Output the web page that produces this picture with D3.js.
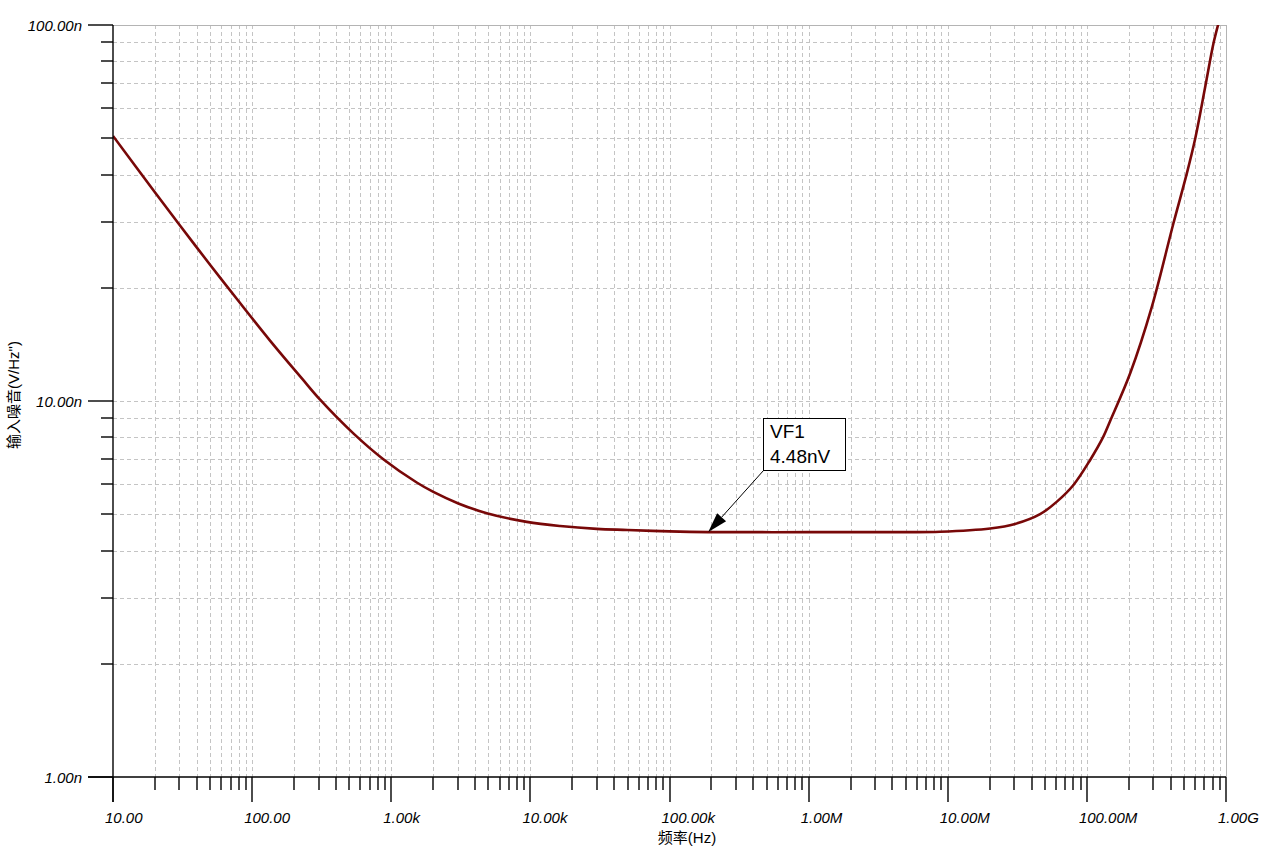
<!DOCTYPE html>
<html><head><meta charset="utf-8">
<script src="https://cdn.jsdelivr.net/npm/d3@7"></script>
<style>
html,body{margin:0;padding:0;background:#fff;}
svg{display:block;}
</style></head>
<body>
<svg id="chart" width="1262" height="850"></svg>
<script>
// ---- data ----
const freqHz = [10, 20, 30.3, 50, 77.5, 134, 227, 308, 534, 877, 1525, 2007, 3036, 4860, 9420, 16350,
  30000, 50000, 100000, 190000, 1e6, 5e6, 8.8e6, 20.2e6, 30.5e6, 46.1e6, 60.9e6, 80.1e6, 105.6e6,
  131.6e6, 147e6, 204.8e6, 293e6, 419e6, 523e6, 601e6, 709e6, 813e6, 883e6];
const noiseNV = [50.7, 35.9, 29.3, 23.0, 18.7, 14.5, 11.5, 10.08, 8.2, 7.0, 6.07, 5.73, 5.34, 5.03, 4.77, 4.65,
  4.57, 4.54, 4.50, 4.48, 4.48, 4.48, 4.49, 4.58, 4.71, 5.00, 5.40, 5.98, 6.97,
  8.05, 8.85, 11.85, 17.8, 29.7, 40.3, 49.9, 68.5, 89.4, 101];
const xMajorTicks = [10, 100, 1e3, 1e4, 1e5, 1e6, 1e7, 1e8, 1e9];
const xTickLabels = ["10.00", "100.00", "1.00k", "10.00k", "100.00k", "1.00M", "10.00M", "100.00M", "1.00G"];
const yMajorTicks = [1, 10, 100];
const yTickLabels = ["1.00n", "10.00n", "100.00n"];
const markerFreq = 190000;
const markerValue = 4.48;
const markerLabel = ["VF1", "4.48nV"];
const xTitle = "频率(Hz)";
const yTitle = "输入噪音(V/Hz\")";

// ---- layout ----
const L = 113, R = 1226, T = 25, B = 777;
const svg = d3.select("#chart");
const font = "'Liberation Sans', Arial, 'Noto Sans CJK SC', sans-serif";
svg.append("rect").attr("width", 1262).attr("height", 850).attr("fill", "#fff");

const x = d3.scaleLog().domain([10, 1e9]).range([L, R]);
const y = d3.scaleLog().domain([1, 100]).range([B, T]);

// minor tick values (multiples 2..9 in each decade)
const xMinor = [];
for (let d = 10; d < 1e9; d *= 10) for (let m = 2; m <= 9; m++) xMinor.push(d * m);
const yMinor = [];
for (let d = 1; d < 100; d *= 10) for (let m = 2; m <= 9; m++) yMinor.push(d * m);

// grid
const grid = svg.append("g").attr("stroke", "#c4c4c4").attr("stroke-width", 1).attr("stroke-dasharray", "4,3");
xMinor.concat(xMajorTicks.slice(1, -1)).forEach(v => {
  const px = Math.round(x(v)) + 0.5;
  grid.append("line").attr("x1", px).attr("x2", px).attr("y1", T).attr("y2", B);
});
yMinor.concat([10]).forEach(v => {
  const py = Math.round(y(v)) + 0.5;
  grid.append("line").attr("x1", L).attr("x2", R).attr("y1", py).attr("y2", py);
});
// top & right border
svg.append("line").attr("x1", L).attr("x2", R).attr("y1", T + 0.5).attr("y2", T + 0.5).attr("stroke", "#b4b4b4");
svg.append("line").attr("x1", R + 0.5).attr("x2", R + 0.5).attr("y1", T).attr("y2", B).attr("stroke", "#b4b4b4");

// curve
svg.append("clipPath").attr("id", "clip").append("rect").attr("x", L).attr("y", T).attr("width", R - L).attr("height", B - T);
const pts = freqHz.map((f, i) => [f, noiseNV[i]]);
const line = d3.line().x(d => x(d[0])).y(d => y(d[1])).curve(d3.curveCatmullRom.alpha(0.5));
svg.append("path").attr("d", line(pts)).attr("clip-path", "url(#clip)")
  .attr("fill", "none").attr("stroke", "#780808").attr("stroke-width", 2.6);

// axes
const ax = svg.append("g").attr("stroke", "#000").attr("stroke-width", 1.4);
ax.append("line").attr("x1", 88).attr("x2", R).attr("y1", B).attr("y2", B);
ax.append("line").attr("x1", L).attr("x2", L).attr("y1", T).attr("y2", 802);
xMinor.forEach(v => ax.append("line").attr("x1", Math.round(x(v))).attr("x2", Math.round(x(v))).attr("y1", B).attr("y2", 790));
xMajorTicks.forEach(v => ax.append("line").attr("x1", Math.round(x(v))).attr("x2", Math.round(x(v))).attr("y1", B).attr("y2", 802));
yMinor.forEach(v => ax.append("line").attr("x1", 101).attr("x2", L).attr("y1", Math.round(y(v))).attr("y2", Math.round(y(v))));
yMajorTicks.forEach(v => ax.append("line").attr("x1", 88).attr("x2", L).attr("y1", Math.round(y(v))).attr("y2", Math.round(y(v))));

// tick labels
xMajorTicks.forEach((v, i) => {
  svg.append("text").attr("x", x(v) - 8).attr("y", 823)
    .attr("font-family", font).attr("font-style", "italic").attr("font-size", 15)
    .attr("fill", "#000").text(xTickLabels[i]);
});
yMajorTicks.forEach((v, i) => {
  svg.append("text").attr("x", 82).attr("y", y(v) + 5.5).attr("text-anchor", "end")
    .attr("font-family", font).attr("font-style", "italic").attr("font-size", 15)
    .attr("fill", "#000").text(yTickLabels[i]);
});

// axis titles
svg.append("text").attr("x", 687).attr("y", 843).attr("text-anchor", "middle")
  .attr("font-family", font).attr("font-size", 15).attr("fill", "#000").text(xTitle);
svg.append("text").attr("transform", "translate(19,395) rotate(-90)").attr("text-anchor", "middle")
  .attr("font-family", font).attr("font-size", 15).attr("fill", "#000").text(yTitle);

// marker
const mx = x(markerFreq), my = y(markerValue);
const bx = 763.5, by = 418.5, bw = 82, bh = 52;
const cx = bx, cy = by + bh;
const ang = Math.atan2(my - cy, mx - cx);
const hl = 20, hw = 6;
const baseX = mx - hl * Math.cos(ang), baseY = my - hl * Math.sin(ang);
svg.append("line").attr("x1", cx).attr("y1", cy).attr("x2", baseX).attr("y2", baseY).attr("stroke", "#000").attr("stroke-width", 1);
svg.append("path").attr("d", `M${mx},${my}L${baseX + hw * Math.sin(ang)},${baseY - hw * Math.cos(ang)}L${baseX - hw * Math.sin(ang)},${baseY + hw * Math.cos(ang)}Z`)
  .attr("fill", "#000");
svg.append("rect").attr("x", bx).attr("y", by).attr("width", bw).attr("height", bh)
  .attr("fill", "#fff").attr("stroke", "#000").attr("stroke-width", 1);
markerLabel.forEach((t, i) => {
  svg.append("text").attr("x", 770).attr("y", 438 + i * 25)
    .attr("font-family", font).attr("font-size", 19).attr("fill", "#000").text(t);
});
</script>
</body></html>
